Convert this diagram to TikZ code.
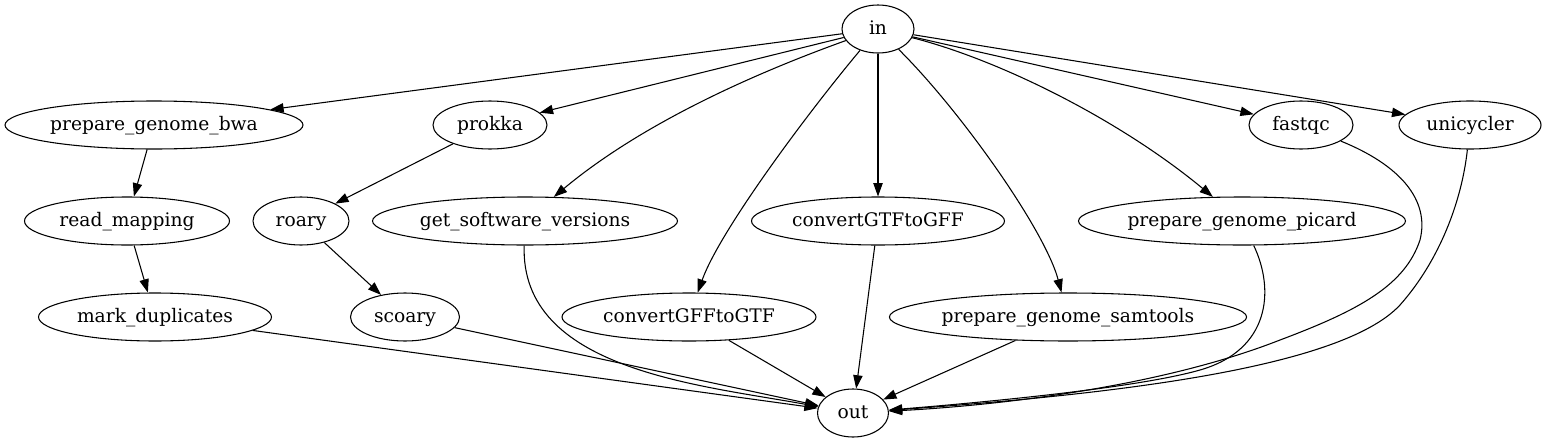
\documentclass[tikz,border=0pt]{standalone}
\usepackage{fontspec}
\setmainfont{DejaVu Serif}
\usetikzlibrary{shapes.geometric,arrows.meta}
\begin{document}
\begin{tikzpicture}[x=0.75pt,y=-0.75pt,
  nd/.style={draw, ellipse, minimum height=36pt, inner sep=0pt,
    text height=10.5pt, text depth=3pt,
    font=\fontsize{14}{16}\selectfont, line width=0.8pt},
  nw/.style={minimum width=#1*0.75pt},
  ed/.style={-{Triangle[length=10pt,width=7pt]}, line width=0.8pt}]
\useasboundingbox (0,0) rectangle (1547,443);
\node[nd,nw=72]  (in)   at (878,29)  {in};
\node[nd,nw=298] (bwa)  at (154,125) {prepare\_genome\_bwa};
\node[nd,nw=114] (prokka) at (490,125) {prokka};
\node[nd,nw=104] (fastqc) at (1301,125) {fastqc};
\node[nd,nw=142] (uni)  at (1470,125) {unicycler};
\node[nd,nw=205] (rm)   at (127,221) {read\_mapping};
\node[nd,nw=96]  (roary) at (301,221) {roary};
\node[nd,nw=305] (gsv)  at (525,221) {get\_software\_versions};
\node[nd,nw=253] (gtf2gff) at (878,221) {convertGTFtoGFF};
\node[nd,nw=327] (picard) at (1242,221) {prepare\_genome\_picard};
\node[nd,nw=233] (md)   at (155,317) {mark\_duplicates};
\node[nd,nw=109] (scoary) at (405,317) {scoary};
\node[nd,nw=254] (gff2gtf) at (689,317) {convertGFFtoGTF};
\node[nd,nw=357] (samtools) at (1068,317) {prepare\_genome\_samtools};
\node[nd,nw=71]  (out)  at (853,413) {out};

\draw[ed] (in) -- (bwa);
\draw[ed] (in) -- (prokka);
\draw[ed] (in) .. controls (750,75) and (640,125) .. (gsv);
\draw[ed] (in) .. controls (810,110) and (720,230) .. (gff2gtf);
\draw[ed] (in) -- (gtf2gff);
\draw[ed] (in) .. controls (960,110) and (1045,230) .. (samtools);
\draw[ed] (in) .. controls (1000,60) and (1120,120) .. (picard);
\draw[ed] (in) -- (fastqc);
\draw[ed] (in) -- (uni);
\draw[ed] (bwa) -- (rm);
\draw[ed] (rm) -- (md);
\draw[ed] (prokka) -- (roary);
\draw[ed] (roary) -- (scoary);
\draw[ed] (md) -- (out);
\draw[ed] (scoary) -- (out);
\draw[ed] (gsv) .. controls (520,370) and (700,385) .. (out);
\draw[ed] (gff2gtf) -- (out);
\draw[ed] (gtf2gff) -- (out);
\draw[ed] (samtools) -- (out);
\draw[ed] (picard) .. controls (1275,290) and (1270,350) .. (1200,370)
  .. controls (1130,390) and (950,405) .. (out);
\draw[ed] (fastqc) .. controls (1400,165) and (1430,200) .. (1420,240)
  .. controls (1405,285) and (1360,310) .. (1280,340)
  .. controls (1140,395) and (950,408) .. (out);
\draw[ed] (uni) .. controls (1462,200) and (1440,260) .. (1400,305)
  .. controls (1340,370) and (1100,395) .. (out);
\end{tikzpicture}
\end{document}
